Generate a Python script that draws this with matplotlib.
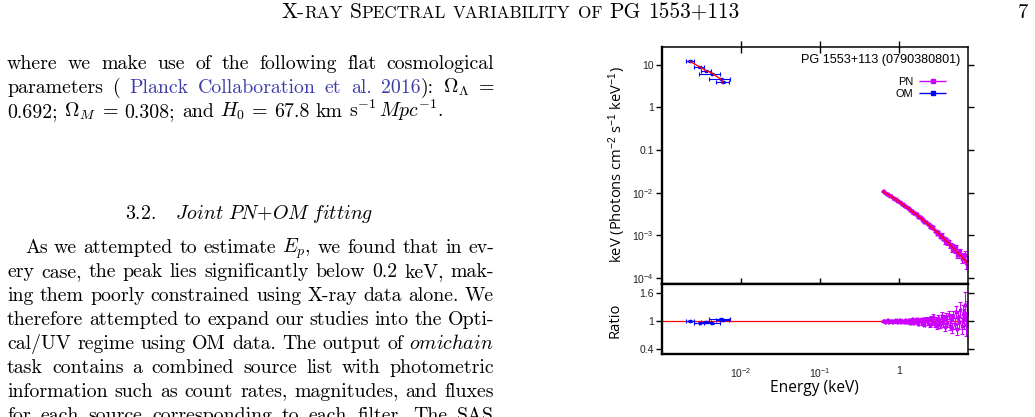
import matplotlib
matplotlib.use('Agg')
import matplotlib.pyplot as plt
import numpy as np
from matplotlib.ticker import FixedLocator, FixedFormatter, NullLocator
from matplotlib.legend_handler import HandlerErrorbar
from matplotlib.container import ErrorbarContainer

W, H = 1035, 417

# PN spectrum (keV, flux in keV Photons cm^-2 s^-1 keV^-1)
pn_energy = [0.63, 0.65, 0.67, 0.70, 0.72, 0.75, 0.77, 0.80, 0.83, 0.86, 0.89, 0.92, 0.95, 0.98,
             1.02, 1.05, 1.09, 1.13, 1.17, 1.21, 1.25, 1.29, 1.34, 1.38, 1.43, 1.48, 1.53, 1.58,
             1.64, 1.70, 1.76, 1.82, 1.88, 1.95, 2.01, 2.08, 2.16, 2.23, 2.31, 2.39, 2.47, 2.56,
             2.65, 2.74, 2.83, 2.93, 3.03, 3.14, 3.25, 3.36, 3.48, 3.60, 3.72, 3.85, 3.98, 4.12,
             4.27, 4.41, 4.57, 4.73, 4.89, 5.06, 5.24, 5.42, 5.61, 5.80, 6.00, 6.21, 6.43, 6.65,
             6.88, 7.12, 7.37]
pn_flux = [0.01065, 0.01038, 0.00984, 0.00946, 0.00934, 0.00865, 0.00847, 0.00818, 0.00760, 0.00743,
           0.00719, 0.00697, 0.00650, 0.00631, 0.00618, 0.00566, 0.00550, 0.00530, 0.00496, 0.00489,
           0.00449, 0.00443, 0.00428, 0.00388, 0.00380, 0.00376, 0.00331, 0.00336, 0.00309, 0.00311,
           0.00267, 0.00270, 0.00262, 0.00231, 0.00239, 0.00203, 0.00209, 0.00207, 0.00179, 0.00184,
           0.00153, 0.00167, 0.00145, 0.00154, 0.00124, 0.00129, 0.00106, 0.00120, 0.00106, 0.000917,
           0.00104, 0.000839, 0.000865, 0.000682, 0.000803, 0.000665, 0.000732, 0.000551, 0.000600,
           0.000457, 0.000559, 0.000444, 0.000526, 0.000344, 0.000415, 0.000352, 0.000420, 0.000283,
           0.000337, 0.000288, 0.000346, 0.000220, 0.000262]
pn_model = [0.01065, 0.01028, 0.00994, 0.00946, 0.00916, 0.00874, 0.00847, 0.00810, 0.00775, 0.00743,
            0.00712, 0.00683, 0.00657, 0.00631, 0.00600, 0.00578, 0.00550, 0.00525, 0.00501, 0.00479,
            0.00458, 0.00439, 0.00416, 0.00400, 0.00380, 0.00362, 0.00345, 0.00329, 0.00312, 0.00296,
            0.00281, 0.00267, 0.00254, 0.00241, 0.00230, 0.00218, 0.00205, 0.00195, 0.00185, 0.00175,
            0.00166, 0.00156, 0.00148, 0.00140, 0.00132, 0.00125, 0.00118, 0.00111, 0.00105, 0.000986,
            0.000928, 0.000874, 0.000824, 0.000775, 0.000730, 0.000686, 0.000642, 0.000605, 0.000566,
            0.000531, 0.000499, 0.000467, 0.000438, 0.000410, 0.000384, 0.000359, 0.000336, 0.000314,
            0.000293, 0.000274, 0.000256, 0.000239, 0.000222]
pn_ratio = [1.00, 1.01, 0.99, 1.00, 1.02, 0.99, 1.00, 1.01, 0.98, 1.00, 1.01, 1.02, 0.99, 1.00,
            1.03, 0.98, 1.00, 1.01, 0.99, 1.02, 0.98, 1.01, 1.03, 0.97, 1.00, 1.04, 0.96, 1.02,
            0.99, 1.05, 0.95, 1.01, 1.03, 0.96, 1.04, 0.93, 1.02, 1.06, 0.97, 1.05, 0.92, 1.07,
            0.98, 1.10, 0.94, 1.03, 0.90, 1.08, 1.01, 0.93, 1.12, 0.96, 1.05, 0.88, 1.10, 0.97,
            1.14, 0.91, 1.06, 0.86, 1.12, 0.95, 1.20, 0.84, 1.08, 0.98, 1.25, 0.90, 1.15, 1.05,
            1.35, 0.92, 1.18]
pn_ratio_err = [0.012, 0.012, 0.013, 0.013, 0.013, 0.014, 0.014, 0.014, 0.015, 0.015, 0.015, 0.016,
                0.016, 0.016, 0.017, 0.017, 0.018, 0.018, 0.019, 0.019, 0.020, 0.021, 0.022, 0.022,
                0.023, 0.024, 0.025, 0.026, 0.027, 0.028, 0.029, 0.030, 0.031, 0.032, 0.034, 0.035,
                0.037, 0.038, 0.040, 0.042, 0.044, 0.046, 0.048, 0.050, 0.052, 0.055, 0.058, 0.060,
                0.063, 0.066, 0.070, 0.073, 0.077, 0.080, 0.084, 0.088, 0.092, 0.097, 0.100, 0.105,
                0.11, 0.115, 0.12, 0.13, 0.14, 0.15, 0.16, 0.17, 0.19, 0.21, 0.28, 0.24, 0.26]

# OM photometry
om_energy = [0.00224, 0.00299, 0.0036, 0.0043, 0.0056, 0.0059]
om_elo = [0.00200, 0.00251, 0.00316, 0.00295, 0.00398, 0.00479]
om_ehi = [0.00251, 0.00343, 0.00417, 0.00550, 0.00716, 0.00708]
om_flux = [12.2, 8.6, 7.2, 6.1, 4.7, 3.9]
om_flux_err = [0.4, 0.3, 0.25, 0.2, 0.2, 0.15]
om_model = [12.1, 8.9, 7.3, 6.35, 4.5, 3.8]
om_ratio = [1.01, 0.97, 0.99, 0.96, 1.05, 1.03]
om_ratio_err = [0.015, 0.015, 0.015, 0.015, 0.015, 0.015]

flux_ticks = [1e-4, 1e-3, 1e-2, 0.1, 1, 10]
flux_labels = ['10$^{-4}$', '10$^{-3}$', '10$^{-2}$', '0.1', '1', '10']
ratio_ticks = [0.4, 1, 1.6]
ratio_labels = ['0.4', '1', '1.6']
energy_ticks = [0.01, 0.1, 1]
energy_labels = ['10$^{-2}$', '10$^{-1}$', '1']

PN_C = '#cc00ff'
OM_C = '#0000ff'
CITE = '#3c3ca8'
BODY = 14.3

plt.rcParams['mathtext.fontset'] = 'custom'
plt.rcParams['mathtext.rm'] = 'Liberation Sans'
plt.rcParams['mathtext.it'] = 'Liberation Sans:italic'
plt.rcParams['mathtext.bf'] = 'Liberation Sans:bold'

fig = plt.figure(figsize=(W / 100, H / 100), dpi=100)
renderer = fig.canvas.get_renderer()


# ---- page text ----
def put_words(words, base, x0=7, x1=494, justify=True, center=None, size=BODY):
    groups = []
    widths = []
    for w in words:
        if isinstance(w, str):
            w = [(w, 'black', size)]
        g = []
        for s, c, fs in w:
            t = fig.text(0, 1 - base / H, s, fontsize=fs, family='cmr10', math_fontfamily='cm',
                         color=c, va='baseline', ha='left')
            g.append((t, t.get_window_extent(renderer).width))
        groups.append(g)
        widths.append(sum(p[1] for p in g))
    space = 0.333 * size * 100 / 72
    if justify and len(words) > 1:
        space = (x1 - x0 - sum(widths)) / (len(words) - 1)
    total = sum(widths) + space * (len(words) - 1)
    x = x0 if center is None else center - total / 2
    for g in groups:
        for t, tw in g:
            t.set_x(x / W)
            x += tw
        x += space


def small_caps(word, big=15.4, small=15.4 * 0.8):
    out = []
    for ch in word:
        if ch.islower():
            fs, s = small, ch.upper()
        else:
            fs, s = big, ch
        if out and out[-1][2] == fs:
            out[-1] = (out[-1][0] + s, 'black', fs)
        else:
            out.append((s, 'black', fs))
    return out


def cite(word, tail=None):
    w = [(word, CITE, BODY)]
    if tail:
        w.append((tail, 'black', BODY))
    return w


header = 'X-ray Spectral variability of PG 1553+113'.split()
put_words([small_caps(w) for w in header], 18, justify=False, center=510, size=15.4)
fig.text(1028 / W, 1 - 18 / H, '7', fontsize=15, family='cmr10', ha='right', va='baseline')

put_words('where we make use of the following flat cosmological'.split(), 69)
put_words(['parameters', '(', cite('Planck'), cite('Collaboration'), cite('et'), cite('al.'),
           cite('2016', '):'), r'$\Omega_\Lambda$', '='], 93)
put_words(['0.692;', r'$\Omega_M$', '=', '0.308;', 'and', '$H_0$', '=', '67.8', 'km',
           r's$^{-1}\,Mpc^{-1}$.'], 117, justify=False)

fig.text(249 / W, 1 - 219 / H, r'3.2.   $\mathit{Joint\ PN}$+$\mathit{OM\ fitting}$', fontsize=BODY,
         family='cmr10', math_fontfamily='cm', ha='center', va='baseline')

put_words('As we attempted to estimate $E_p$, we found that in ev-'.split(), 253, x0=25)
put_words('ery case, the peak lies significantly below 0.2 keV, mak-'.split(), 277)
put_words('ing them poorly constrained using X-ray data alone. We'.split(), 301)
put_words('therefore attempted to expand our studies into the Opti-'.split(), 325)
put_words(r'cal/UV regime using OM data. The output of $\mathit{omichain}$'.split(), 349)
put_words('task contains a combined source list with photometric'.split(), 373)
put_words('information such as count rates, magnitudes, and fluxes'.split(), 397)
put_words('for each source corresponding to each filter. The SAS'.split(), 421)

# ---- chart ----
ax1 = fig.add_axes([662 / W, 1 - 284 / H, 306 / W, 237 / H])
ax2 = fig.add_axes([662 / W, 1 - 354 / H, 306 / W, 70 / H], sharex=ax1)

e = np.array(pn_energy)
edges = np.sqrt(e[1:] * e[:-1])
pn_xlo = e - np.r_[e[0] ** 2 / edges[0], edges]
pn_xhi = np.r_[edges, e[-1] ** 2 / edges[-1]] - e
pn_flux_err = np.array(pn_flux) * np.array(pn_ratio_err) / np.array(pn_ratio)
om_xerr = [np.array(om_energy) - np.array(om_elo), np.array(om_ehi) - np.array(om_energy)]

ebar = dict(fmt='s', ms=2, elinewidth=0.8, capthick=0.8, zorder=2)
ax1.errorbar(pn_energy, pn_flux, xerr=[pn_xlo, pn_xhi], yerr=pn_flux_err, color=PN_C,
             ecolor=PN_C, capsize=1.2, **ebar)
ax1.errorbar(om_energy, om_flux, xerr=om_xerr, yerr=om_flux_err, color=OM_C, ecolor=OM_C,
             capsize=1.5, **ebar)
ax1.plot(pn_energy, pn_model, color='red', lw=1, zorder=3)
ax1.plot(om_energy, om_model, color='red', lw=1, zorder=3)

# legend keys: horizontal bar with caps, as in the original
h_pn = ax1.errorbar([], [], xerr=[], fmt='s', ms=2.5, color=PN_C, elinewidth=1, capsize=2.5, label='PN')
h_om = ax1.errorbar([], [], xerr=[], fmt='s', ms=2.5, color=OM_C, elinewidth=1, capsize=2.5, label='OM')

ax2.errorbar(pn_energy, pn_ratio, xerr=[pn_xlo, pn_xhi], yerr=pn_ratio_err, color=PN_C,
             ecolor=PN_C, capsize=1.2, **ebar)
ax2.errorbar(om_energy, om_ratio, xerr=om_xerr, yerr=om_ratio_err, color=OM_C, ecolor=OM_C,
             capsize=1.5, **ebar)
ax2.axhline(1, color='red', lw=0.9, zorder=1)

ax1.set_xscale('log')
ax1.set_yscale('log')
ax1.set_xlim(1.0e-3, 7.5)
ax1.set_ylim(7.2e-5, 26)
ax2.set_ylim(0.3, 1.8)

ax1.xaxis.set_major_locator(FixedLocator(energy_ticks))
ax1.xaxis.set_major_formatter(FixedFormatter(energy_labels))
ax1.xaxis.set_minor_locator(NullLocator())
ax1.yaxis.set_major_locator(FixedLocator(flux_ticks))
ax1.yaxis.set_major_formatter(FixedFormatter(flux_labels))
ax1.yaxis.set_minor_locator(NullLocator())
ax2.yaxis.set_major_locator(FixedLocator(ratio_ticks))
ax2.yaxis.set_major_formatter(FixedFormatter(ratio_labels))
ax2.yaxis.set_minor_locator(NullLocator())

ax1.tick_params(axis='x', direction='inout', length=8, width=1, top=True, bottom=True,
                labelbottom=False)
ax2.tick_params(axis='x', length=0, pad=9, labelsize=7.5, colors='#222222')
ax1.tick_params(axis='y', direction='out', length=4, width=1, left=True, right=True,
                labelsize=7.5, labelcolor='#222222', pad=2)
ax2.tick_params(axis='y', direction='out', length=4, width=1, left=True, right=True,
                labelsize=7.5, labelcolor='#222222', pad=2)
for ax in (ax1, ax2):
    for lab in ax.get_xticklabels() + ax.get_yticklabels():
        lab.set_family('Liberation Sans')
    ax.spines['left'].set_linewidth(1.7)
    ax.spines['bottom'].set_linewidth(1.7)
    ax.spines['top'].set_linewidth(1.1)
    ax.spines['right'].set_linewidth(1.1)
ax2.spines['top'].set_linewidth(1.7)

ax1.text(0.974, 0.945, 'PG 1553+113 (0790380801)', transform=ax1.transAxes, ha='right',
         va='center', fontsize=9.1, family='Liberation Sans')
ax1.legend(handles=[h_pn, h_om], loc='upper right', bbox_to_anchor=(0.931, 0.873), frameon=False,
           markerfirst=False, prop={'family': 'Liberation Sans', 'size': 7.9}, handlelength=2.6,
           labelspacing=0.2, borderaxespad=0, borderpad=0, handletextpad=0.45,
           handler_map={ErrorbarContainer: HandlerErrorbar(xerr_size=1.25)})

fig.text(617 / W, 1 - 165 / H, 'keV (Photons cm$^{-2}$ s$^{-1}$ keV$^{-1}$)', rotation=90,
         ha='center', va='center', fontsize=10.6, family='Open Sans')
fig.text(615 / W, 1 - 320 / H, 'Ratio', rotation=90, ha='center', va='center', fontsize=10.6,
         family='Open Sans')
fig.text(814 / W, 1 - 388 / H, 'Energy (keV)', ha='center', va='center', fontsize=11.2,
         family='Open Sans')

fig.savefig('out.png', dpi=100)
